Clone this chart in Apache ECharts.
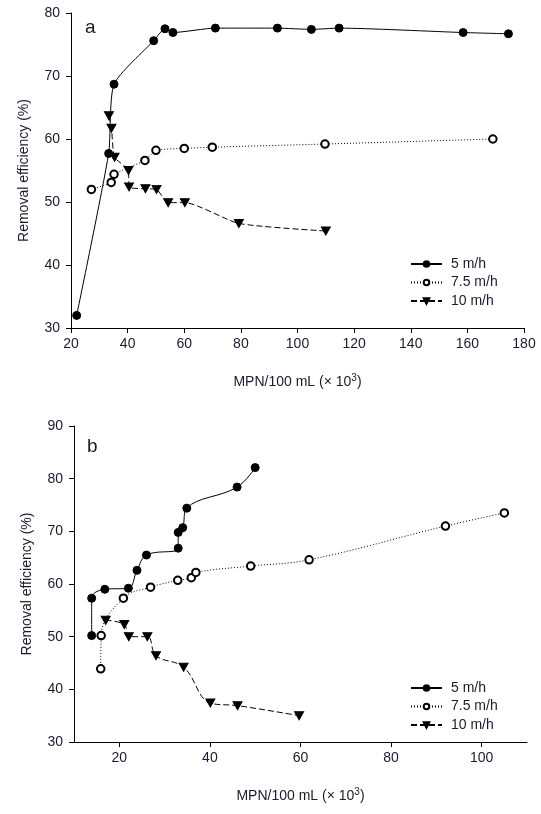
<!DOCTYPE html>
<html>
<head>
<meta charset="utf-8">
<script src="https://cdn.jsdelivr.net/npm/echarts@6/dist/echarts.min.js"></script>
<style>
html,body{margin:0;padding:0;background:#fff;}
#c{width:541px;height:814px;}
</style>
</head>
<body>
<div id="c"></div>
<script>
// Panel a data: [MPN/100 mL (x10^3), removal efficiency %]
const a5 = [[22,32],[33.3,57.7],[35.2,68.7],[49.2,75.6],[53.2,77.5],[56,76.9],[71,77.6],[92.9,77.6],[104.9,77.4],[114.7,77.6],[158.5,76.9],[174.5,76.7]];
const a75 = [[27.2,52],[34.2,53.1],[35.2,54.4],[46.1,56.6],[50,58.2],[60,58.5],[69.9,58.7],[109.7,59.2],[169,60]];
const a10 = [[33.4,63.7],[34.3,61.7],[35.4,57.1],[40.3,55],[40.5,52.4],[46.3,52.1],[50.2,52],[54.3,49.9],[60.2,49.9],[79.3,46.6],[110,45.4]];
// Panel b data
const b5 = [[13.9,50.2],[13.9,57.3],[16.8,59],[22,59.2],[23.9,62.6],[26,65.5],[33,66.8],[33,69.8],[34,70.7],[34.9,74.4],[46,78.4],[50,82.1]];
const b75 = [[15.9,43.9],[16,50.2],[20.9,57.3],[26.9,59.4],[32.9,60.7],[35.9,61.2],[36.9,62.2],[49,63.4],[61.9,64.6],[92,71],[105,73.5]];
const b10 = [[17,53.1],[21.1,52.3],[22.1,50],[26.2,50],[28.1,46.4],[34.2,44.2],[40.1,37.4],[46.1,36.9],[59.7,35]];
const seriesNames = ['5 m/h','7.5 m/h','10 m/h'];
const panelLabels = ['a','b'];
const aXTicks = [20,40,60,80,100,120,140,160,180];
const aYTicks = [30,40,50,60,70,80];
const bXTicks = [20,40,60,80,100];
const bYTicks = [30,40,50,60,70,80,90];
const yTitle = 'Removal efficiency (%)';

const FONT = 'Liberation Sans, Arial, sans-serif';
const TXT = '#1a1a2e';
const chart = echarts.init(document.getElementById('c'), null, {renderer:'canvas'});

function xAxis(gi, min, max, ticks){
  return {type:'value', gridIndex:gi, min:min, max:max, interval:10,
    axisLine:{show:true, lineStyle:{color:'#000', width:1}},
    axisTick:{show:true, inside:false, length:5, lineStyle:{color:'#000'}, customValues:ticks},
    axisLabel:{color:TXT, fontSize:14, fontFamily:FONT, margin:9, customValues:ticks},
    splitLine:{show:false},
    name:'MPN/100 mL (× 10{s|3})', nameLocation:'middle', nameGap:45,
    nameTextStyle:{color:TXT, fontSize:14, fontFamily:FONT, rich:{s:{fontSize:10, verticalAlign:'top', color:TXT, fontFamily:FONT, padding:[0,0,8,0]}}}
  };
}
function yAxis(gi, min, max, ticks){
  return {type:'value', gridIndex:gi, min:min, max:max, interval:10,
    axisLine:{show:true, lineStyle:{color:'#000', width:1}},
    axisTick:{show:true, inside:false, length:5, lineStyle:{color:'#000'}, customValues:ticks},
    axisLabel:{color:TXT, fontSize:14, fontFamily:FONT, margin:11, customValues:ticks},
    splitLine:{show:false},
    name:yTitle, nameLocation:'middle', nameGap:40, nameRotate:90,
    nameTextStyle:{color:TXT, fontSize:14, fontFamily:FONT}
  };
}
function ser(name, data, gi, kind, smooth){
  const s = {name:name, type:'line', xAxisIndex:gi, yAxisIndex:gi, data:data, smooth:smooth,
    showSymbol:true, symbolSize:8, lineStyle:{color:'#000', width:1}, itemStyle:{color:'#000', borderColor:'#000', borderWidth:1},
    animation:false, z:3};
  if(kind===0){ s.symbol='circle'; s.lineStyle.type='solid'; }
  if(kind===1){ s.symbol='emptyCircle'; s.lineStyle.type=[1,2]; s.symbolSize=7.5; }
  if(kind===2){ s.symbol='triangle'; s.symbolRotate=180; s.symbolSize=[9,8]; s.lineStyle.type=[6,3]; }
  return s;
}
function legend(top){
  return {show:true, orient:'vertical', left:405, top:top, itemWidth:31, itemHeight:7, itemGap:4.5,
    textStyle:{color:TXT, fontSize:14, fontFamily:FONT, padding:[0,0,0,4]},
    data:seriesNames.map(n=>({name:n})),
    selectedMode:false};
}
const opt = {
  backgroundColor:'#fff',
  animation:false,
  grid:[{left:71, top:13, width:453, height:315},{left:74, top:426, width:453, height:316}],
  xAxis:[xAxis(0,20,180,aXTicks), xAxis(1,10,110,bXTicks)],
  yAxis:[yAxis(0,30,80,aYTicks), yAxis(1,30,90,bYTicks)],
  legend:[legend(252), legend(676)],
  series:[
    ser(seriesNames[0], a5, 0, 0, 0.2),
    ser(seriesNames[1], a75, 0, 1, 0.2),
    ser(seriesNames[2], a10, 0, 2, 0.2),
    ser(seriesNames[0], b5, 1, 0, 0.4),
    ser(seriesNames[1], b75, 1, 1, 0.4),
    ser(seriesNames[2], b10, 1, 2, 0.4)
  ],
  graphic:[
    {type:'text', left:85, top:18, style:{text:panelLabels[0], fontSize:19, fontFamily:FONT, fill:TXT}},
    {type:'text', left:87, top:437, style:{text:panelLabels[1], fontSize:19, fontFamily:FONT, fill:TXT}}
  ]
};
chart.setOption(opt);
</script>
</body>
</html>
